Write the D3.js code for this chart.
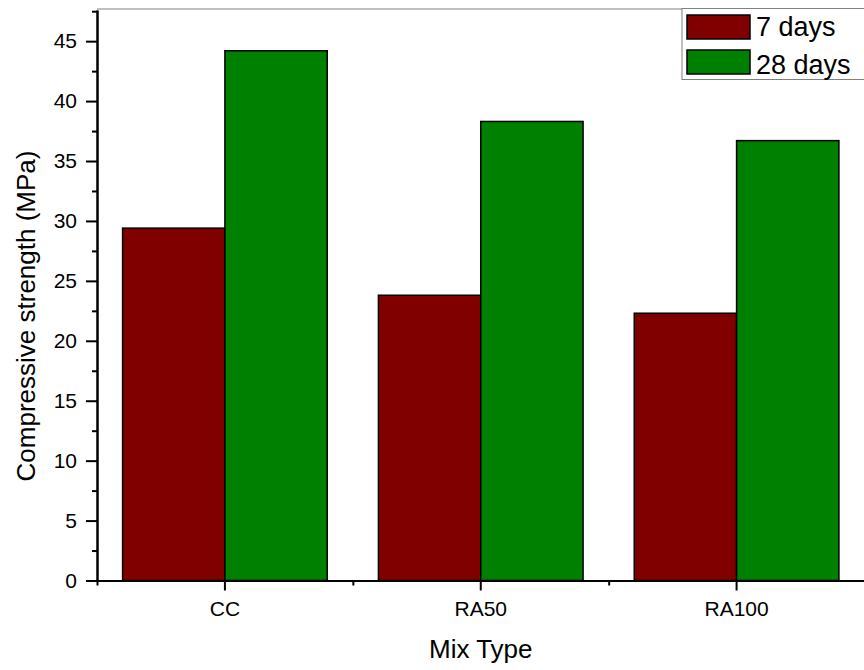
<!DOCTYPE html>
<html lang="en">
<head>
  <meta charset="UTF-8">
  <title>Compressive strength</title>
  <script src="https://d3js.org/d3.v7.min.js"></script>
  <style>
    body { margin: 0; background: #fff; }
    svg { display: block; font-family: "Liberation Sans", Arial, sans-serif; }
  </style>
</head>
<body>
  <div class="main"></div>
<script>

  // values
  const mixTypes = ["CC", "RA50", "RA100"];
  const seriesNames = ["7 days", "28 days"];
  const days7 = [29.4, 23.8, 22.3];
  const days28 = [44.2, 38.3, 36.7];
  const yTickValues = [0, 5, 10, 15, 20, 25, 30, 35, 40, 45];
  const colors = ["#800000", "#008000"];

  let width = 864;
  let height = 670;
  let plotLeft = 97, plotRight = 864.5, plotTop = 10, plotBottom = 580.5;

  let svg = d3.select(".main")
          .append("svg")
          .attr("width", width)
          .attr("height", height);

  let xScale = d3.scaleBand()
          .domain(mixTypes)
          .range([plotLeft, plotRight])
          .paddingInner(0.2)
          .paddingOuter(0.1);

  let xSub = d3.scaleBand()
          .domain(seriesNames)
          .range([0, xScale.bandwidth()]);

  // linear helper for the minor ticks between the categories
  let xPos = d3.scaleLinear().domain([0.5, 3.5]).range([plotLeft, plotRight]);

  let yScale = d3.scaleLinear()
          .domain([0, 47.6])
          .range([plotBottom, plotTop]);

  let rows = mixTypes.map((m, i) => ({key: m, values: [days7[i], days28[i]]}));

  // top frame line
  svg.append("line")
          .attr("x1", plotLeft).attr("x2", plotRight)
          .attr("y1", yScale(47.6) - 1).attr("y2", yScale(47.6) - 1)
          .style("stroke", "#808080").style("stroke-width", 1);

  // bars
  let groups = svg.append("g").selectAll("g")
          .data(rows)
          .join("g")
          .attr("transform", d => `translate(${xScale(d.key)},0)`);

  groups.selectAll("rect")
          .data(d => d.values.map((v, j) => ({name: seriesNames[j], value: v, idx: j})))
          .join("rect")
          .attr("x", d => xSub(d.name))
          .attr("width", xSub.bandwidth())
          .attr("y", d => yScale(d.value))
          .attr("height", d => yScale(0) - yScale(d.value))
          .style("fill", d => colors[d.idx])
          .style("stroke", "black")
          .style("stroke-width", 1.5);

  function draw(axis, translate, cls){
    let g = svg.append("g")
            .call(axis).attr("transform", translate)
            .attr("class", cls);
    g.select(".domain").style("stroke", "black").style("stroke-width", 2);
    g.selectAll(".tick line").style("stroke", "black").style("stroke-width", 2);
    g.selectAll(".tick text").style("font-size", "21px").style("fill", "black")
            .style("font-family", '"Liberation Sans", Arial, sans-serif');
    return g;
  }

  // y minor ticks
  let yMinor = d3.axisLeft(yScale)
          .tickValues(d3.range(2.5, 47.6, 5))
          .tickSize(5).tickSizeOuter(0).tickFormat("");
  draw(yMinor, `translate(${plotLeft},0)`, "yminor");

  let yAxis = d3.axisLeft(yScale)
          .tickValues(yTickValues)
          .tickSize(11)
          .tickSizeOuter(0)
          .tickPadding(9);
  draw(yAxis, `translate(${plotLeft},0)`, "yaxis");

  // x minor ticks at the group edges
  let xMinor = d3.axisBottom(xPos)
          .tickValues([0.5, 1.5, 2.5, 3.5])
          .tickSize(5).tickSizeOuter(0).tickFormat("");
  draw(xMinor, `translate(0,${plotBottom})`, "xminor");

  let xAxis = d3.axisBottom(xScale)
          .tickSize(10)
          .tickSizeOuter(0)
          .tickPadding(11);
  draw(xAxis, `translate(0,${plotBottom})`, "xaxis");

  // axis titles
  svg.append("text")
          .attr("x", xScale("RA50") + xScale.bandwidth() / 2)
          .attr("y", 658)
          .attr("text-anchor", "middle")
          .style("font-size", "26px")
          .text("Mix Type");

  svg.append("text")
          .attr("transform", "translate(35,316) rotate(-90)")
          .attr("text-anchor", "middle")
          .style("font-size", "26px")
          .text("Compressive strength (MPa)");

  // legend
  let legend = svg.append("g").attr("transform", "translate(682,8.5)");
  legend.append("rect")
          .attr("width", 190).attr("height", 71)
          .style("fill", "white").style("stroke", "#808080").style("stroke-width", 1);
  seriesNames.forEach((s, i) => {
    legend.append("rect")
            .attr("x", 5).attr("y", 6.5 + i * 35)
            .attr("width", 63).attr("height", 24)
            .style("fill", colors[i]).style("stroke", "black").style("stroke-width", 1.5);
    legend.append("text")
            .attr("x", 74).attr("y", 27.5 + i * 37.5)
            .style("font-size", "27px")
            .text(s);
  });

</script>
</body>
</html>
